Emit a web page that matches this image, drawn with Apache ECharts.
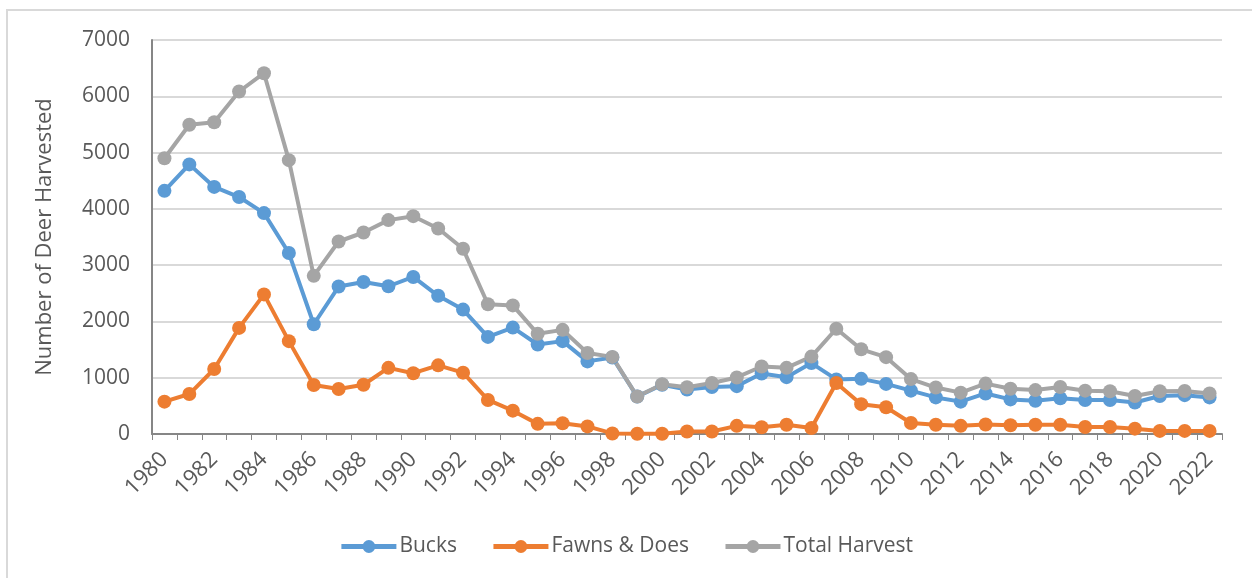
<!DOCTYPE html>
<html lang="en">
<head>
    <meta charset="UTF-8">
    <title>Deer Harvest</title>
    <script src="https://cdn.jsdelivr.net/npm/echarts@6/dist/echarts.min.js"></script>
    <style>
        html, body { margin: 0; padding: 0; background: #fff; }
    </style>
</head>
<body>
    <div id="main" style="width: 1252px; height: 578px;"></div>
    <script>
        var years = [];
        for (var y = 1980; y <= 2022; y++) years.push(String(y));

        var bucks = [4320, 4790, 4390, 4210, 3925, 3215, 1950, 2620, 2700, 2625, 2790, 2455, 2210, 1725, 1890,
                     1590, 1650, 1290, 1360, 665, 875, 790, 835, 850, 1075, 1010, 1260, 970, 980, 890,
                     770, 650, 575, 720, 615, 590, 635, 605, 605, 560, 675, 690, 650];
        var fawnsDoes = [575, 710, 1155, 1885, 2480, 1650, 870, 800, 875, 1175, 1080, 1220, 1090, 605, 415,
                         180, 190, 135, 10, 5, 5, 45, 45, 145, 120, 165, 105, 905, 530, 475,
                         195, 165, 145, 170, 155, 165, 165, 125, 125, 95, 55, 55, 55];
        var total = [4900, 5495, 5540, 6085, 6410, 4865, 2810, 3420, 3580, 3800, 3870, 3650, 3290, 2305, 2285,
                     1780, 1850, 1440, 1370, 665, 885, 830, 905, 1005, 1200, 1175, 1375, 1870, 1505, 1365,
                     975, 825, 735, 895, 805, 780, 835, 770, 760, 675, 760, 765, 720];

        var textColor = '#595959';
        var fontFam = '"Open Sans", sans-serif';

        function lineSeries(name, data, color) {
            return {
                name: name,
                type: 'line',
                data: data,
                symbol: 'circle',
                symbolSize: 14,
                lineStyle: { width: 4, color: color },
                itemStyle: { color: color },
                emphasis: { disabled: true }
            };
        }

        var myChart = echarts.init(document.getElementById('main'));
        var option = {
            animation: false,
            textStyle: { fontFamily: fontFam },
            graphic: [{
                type: 'rect',
                shape: { x: 7, y: 10, width: 1260, height: 600 },
                style: { fill: 'none', stroke: '#d9d9d9', lineWidth: 2 },
                silent: true
            }],
            grid: { left: 152, right: 30, top: 40, bottom: 144 },
            legend: {
                bottom: 16,
                left: 'center',
                itemWidth: 55,
                itemHeight: 16,
                itemGap: 34,
                lineStyle: { width: 5 },
                textStyle: { fontSize: 21, color: textColor, fontFamily: fontFam, padding: [0, 0, 0, -2] },
                data: ['Bucks', 'Fawns & Does', 'Total Harvest']
            },
            xAxis: {
                type: 'category',
                data: years,
                boundaryGap: true,
                axisLine: { lineStyle: { color: '#868686', width: 2 } },
                axisTick: { show: true, interval: 0, length: 6, lineStyle: { color: '#868686' } },
                axisLabel: {
                    interval: 1,
                    rotate: 45,
                    fontSize: 22,
                    color: textColor,
                    margin: 22,
                    fontFamily: fontFam
                }
            },
            yAxis: {
                type: 'value',
                min: 0,
                max: 7000,
                interval: 1000,
                name: 'Number of Deer Harvested',
                nameLocation: 'middle',
                nameGap: 96,
                nameTextStyle: { fontSize: 22, color: textColor, fontFamily: fontFam },
                axisLine: { show: true, lineStyle: { color: '#868686', width: 2 } },
                axisTick: { show: false },
                axisLabel: {
                    fontSize: 21,
                    color: textColor,
                    margin: 22,
                    fontFamily: fontFam,
                    formatter: function (v) { return String(v); }
                },
                splitLine: { lineStyle: { color: '#d9d9d9', width: 2 } }
            },
            series: [
                lineSeries('Bucks', bucks, '#5B9BD5'),
                lineSeries('Fawns & Does', fawnsDoes, '#ED7D31'),
                lineSeries('Total Harvest', total, '#A5A5A5')
            ]
        };
        myChart.setOption(option);
    </script>
</body>
</html>
